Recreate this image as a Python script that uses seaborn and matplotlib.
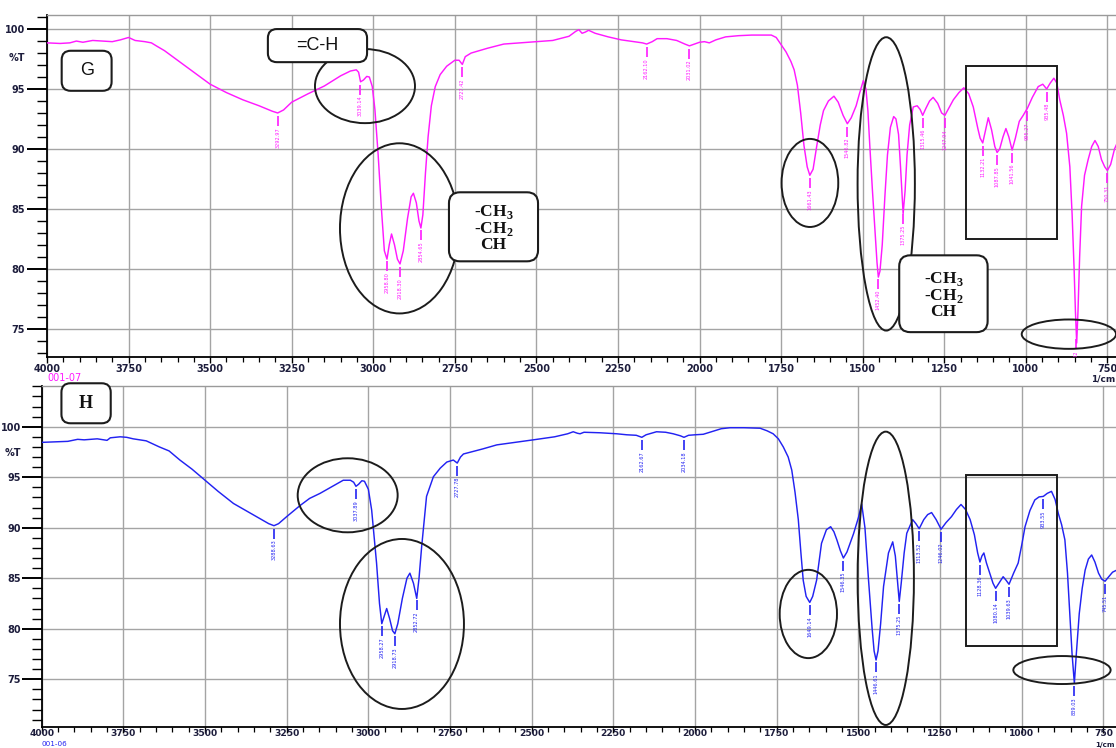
import numpy as np
import matplotlib
matplotlib.use("Agg")
import matplotlib.pyplot as plt
import seaborn as sns
from matplotlib.patches import Ellipse, Rectangle, FancyBboxPatch
from matplotlib.transforms import IdentityTransform

# ---------------- spectrum G (upper panel) ----------------
g_wn = [4000, 3960, 3930, 3910, 3890, 3860, 3830, 3800, 3775, 3750, 3730, 3700, 3680, 3665,
        3640, 3600, 3560, 3500, 3450, 3400, 3350, 3310, 3293, 3275, 3250, 3200, 3150, 3100,
        3070, 3052, 3045, 3039, 3030, 3020, 3012, 3003, 2995, 2985, 2975, 2966, 2958, 2951,
        2944, 2935, 2926, 2918, 2908, 2895, 2884, 2877, 2868, 2860, 2854, 2848, 2840, 2832,
        2822, 2810, 2795, 2775, 2750, 2737, 2727, 2718, 2700, 2650, 2600, 2550, 2500, 2450,
        2400, 2380, 2370, 2360, 2350, 2340, 2320, 2280, 2240, 2200, 2175, 2162, 2145, 2130,
        2100, 2070, 2045, 2031, 2015, 2000, 1985, 1970, 1950, 1920, 1880, 1840, 1800, 1780,
        1765, 1750, 1735, 1720, 1710, 1700, 1690, 1680, 1670, 1662, 1652, 1641, 1630, 1620,
        1605, 1588, 1575, 1560, 1547, 1535, 1520, 1510, 1498, 1490, 1484, 1478, 1470, 1462,
        1456, 1452, 1447, 1440, 1432, 1424, 1415, 1405, 1398, 1390, 1384, 1376, 1370, 1364,
        1356, 1345, 1333, 1324, 1316, 1306, 1295, 1284, 1270, 1258, 1248, 1236, 1222, 1205,
        1190, 1175, 1161, 1147, 1140, 1132, 1124, 1115, 1105, 1095, 1088, 1080, 1070, 1061,
        1052, 1042, 1032, 1020, 1008, 995, 980, 962, 948, 936, 925, 914, 905, 896, 885, 875,
        865, 858, 852, 848, 844, 840, 835, 829, 820, 809, 798, 788, 778, 768, 758, 750, 740,
        728, 715, 700, 680]
g_t = [98.85, 98.8, 98.85, 99.0, 98.9, 99.05, 99.0, 98.95, 99.1, 99.3, 99.05, 98.95, 98.85, 98.6,
       98.2, 97.4, 96.6, 95.4, 94.7, 94.1, 93.6, 93.15, 93.0, 93.25, 93.9, 94.6, 95.25, 96.1,
       96.5, 96.6, 96.4, 95.6, 95.75, 96.05, 96.0, 95.2, 93.3, 89.5, 85.0, 81.5, 80.8, 82.0,
       82.9, 82.0, 80.8, 80.4, 81.5, 84.2, 86.0, 86.3, 85.5, 84.0, 83.4, 84.5, 88.0, 91.0,
       93.6, 95.2, 96.2, 96.9, 97.4, 97.4, 97.05, 97.7, 98.0, 98.4, 98.75, 98.85, 98.95, 99.05,
       99.4, 99.8, 99.95, 99.65, 99.75, 99.9, 99.65, 99.35, 99.1, 98.95, 98.85, 98.75, 98.95, 99.2,
       99.2, 99.05, 98.75, 98.6, 98.75, 98.9, 98.95, 98.85, 99.1, 99.35, 99.45, 99.5, 99.5, 99.5,
       99.3, 98.7, 98.1, 97.3, 96.6, 95.3, 93.0, 90.3, 88.5, 87.8, 88.3, 90.2, 92.0, 93.2,
       94.0, 94.4, 93.9, 92.8, 92.1, 92.6, 93.6, 94.6, 95.7, 95.0, 93.2, 90.2, 86.5, 83.0,
       80.5, 79.3, 79.8, 82.0, 86.0, 89.5, 91.8, 92.7, 92.5, 91.2, 88.5, 84.6, 86.5, 89.5,
       92.0, 93.5, 93.6, 93.3, 92.8, 93.4, 94.0, 94.3, 93.8, 93.0, 92.8, 93.4, 94.1, 94.7,
       95.1, 94.6, 93.5, 91.7, 90.9, 90.5, 91.5, 92.6, 91.6, 90.2, 89.7, 90.0, 91.0, 91.7,
       91.0, 89.9, 90.9, 92.3, 92.8, 93.4, 94.3, 95.2, 95.4, 95.0, 95.5, 95.9, 95.5, 94.1, 92.8, 91.3,
       88.5, 84.5, 80.0, 76.5, 73.8, 76.5, 81.0, 85.2, 87.8, 89.1, 90.2, 90.7, 90.2, 89.1, 88.5, 88.2, 88.7,
       90.0, 90.8, 91.2, 91.0]
g_peaks = [3292.97, 3039.14, 2958.80, 2918.30, 2854.65, 2727.42, 2162.10, 2031.02, 1661.43,
           1546.82, 1452.40, 1375.25, 1315.46, 1247.94, 1132.21, 1087.85, 1041.56, 995.27,
           935.48, 844.82, 750.31]

# ---------------- spectrum H (lower panel) ----------------
h_wn = [4000, 3960, 3920, 3890, 3870, 3830, 3800, 3790, 3760, 3740, 3720, 3700, 3680, 3660,
        3640, 3610, 3577, 3540, 3500, 3460, 3413, 3370, 3332, 3305, 3289, 3275, 3250, 3209,
        3180, 3148, 3110, 3077, 3055, 3045, 3038, 3030, 3020, 3012, 3000, 2990, 2982, 2975,
        2966, 2959, 2951, 2944, 2935, 2926, 2919, 2910, 2896, 2882, 2873, 2862, 2852, 2845,
        2837, 2822, 2801, 2780, 2760, 2740, 2728, 2718, 2709, 2650, 2607, 2550, 2495, 2430,
        2390, 2373, 2360, 2352, 2340, 2291, 2240, 2209, 2180, 2163, 2150, 2118, 2090, 2067,
        2045, 2034, 2020, 2000, 1975, 1950, 1920, 1893, 1850, 1801, 1780, 1761, 1745, 1730,
        1715, 1704, 1694, 1684, 1676, 1669, 1660, 1649, 1640, 1628, 1613, 1598, 1585, 1575,
        1566, 1555, 1546, 1535, 1515, 1500, 1490, 1480, 1469, 1458, 1452, 1446, 1440, 1432,
        1423, 1408, 1395, 1387, 1380, 1375, 1369, 1360, 1352, 1334, 1324, 1314, 1300, 1288,
        1276, 1262, 1247, 1232, 1215, 1200, 1186, 1172, 1158, 1145, 1135, 1128, 1122, 1116,
        1108, 1098, 1088, 1080, 1070, 1057, 1048, 1039, 1025, 1011, 1000, 990, 975, 960, 947,
        934, 922, 909, 898, 888, 878, 868, 860, 853, 846, 839, 833, 824, 815, 806, 796, 786,
        776, 765, 755, 745, 735, 722, 710, 690]
h_t = [98.45, 98.5, 98.55, 98.75, 98.7, 98.8, 98.65, 98.9, 99.0, 98.95, 98.8, 98.7, 98.6, 98.3,
       98.0, 97.6, 96.7, 95.8, 94.7, 93.6, 92.4, 91.6, 90.9, 90.4, 90.2, 90.4, 91.1, 92.2,
       92.9, 93.4, 94.1, 94.7, 94.7, 94.5, 94.1, 94.3, 94.65, 94.6, 93.8, 91.75, 89.0, 86.5,
       82.5, 80.5, 81.3, 82.0, 81.0, 79.8, 79.5, 80.5, 83.0, 85.0, 85.5, 84.5, 83.0, 85.0,
       88.1, 93.1, 95.05, 95.9, 96.5, 96.7, 96.4, 97.0, 97.3, 97.8, 98.2, 98.45, 98.7, 99.0,
       99.3, 99.5, 99.35, 99.3, 99.45, 99.4, 99.3, 99.2, 99.15, 98.95, 99.2, 99.5, 99.45, 99.3,
       99.1, 98.95, 99.15, 99.2, 99.25, 99.5, 99.8, 99.9, 99.9, 99.85, 99.6, 99.3, 98.8, 98.0,
       97.0, 95.7, 93.5, 90.8, 87.5, 84.8, 83.2, 82.6, 83.2, 84.8, 88.45, 89.8, 90.1, 89.6,
       88.8, 87.7, 87.0, 87.6, 89.4, 91.0, 92.35, 90.0, 84.8, 80.0, 77.8, 76.9, 77.8, 80.5,
       84.2, 87.5, 88.6, 87.2, 84.5, 82.7, 84.5, 87.5, 89.45, 90.8, 90.4, 89.9, 90.8, 91.3,
       91.5, 90.8, 89.85, 90.5, 91.1, 91.8, 92.3, 91.8, 90.8, 89.3, 87.5, 86.6, 87.2, 87.5,
       86.5, 85.5, 84.5, 84.0, 84.5, 85.15, 84.8, 84.4, 85.5, 86.5, 88.3, 90.1, 91.7, 92.75, 93.05,
       93.1, 93.4, 93.6, 92.8, 91.4, 90.3, 88.8, 85.5, 81.5, 77.5, 74.6, 77.5, 81.5, 84.0, 85.8, 86.9, 87.3,
       86.6, 85.5, 84.9, 84.7, 85.1, 85.6, 85.8, 86.0]
h_peaks = [3288.63, 3037.89, 2958.27, 2918.73, 2852.72, 2727.78, 2162.67, 2034.18, 1649.14,
           1546.35, 1446.61, 1375.25, 1313.52, 1246.02, 1128.36, 1080.14, 1039.63, 933.55,
           839.03, 745.51]

x_tick_vals = [4000, 3750, 3500, 3250, 3000, 2750, 2500, 2250, 2000, 1750, 1500, 1250, 1000, 750]
x_tick_labels = ["4000", "3750", "3500", "3250", "3000", "2750", "2500", "2250", "2000",
                 "1750", "1500", "1250", "1000", "750"]
y_tick_vals = [75, 80, 85, 90, 95, 100]
y_tick_labels = ["75", "80", "85", "90", "95", "100"]

G_COLOR = "#FF1AFF"
H_COLOR = "#2222F2"
INK = "#1c1c1c"
TICK_INK = "#1d1d3c"

sns.set_theme(style="white")
plt.rcParams["font.family"] = ["DejaVu Sans"]
plt.rcParams["mathtext.fontset"] = "custom"
plt.rcParams["mathtext.bf"] = "Liberation Serif:bold"
plt.rcParams["mathtext.rm"] = "Liberation Serif:bold"

W, H = 1116, 748
PT = 0.72  # points per pixel at 100 dpi
fig = plt.figure(figsize=(W / 100, H / 100), dpi=100)
fig.patch.set_facecolor("white")

ax_g = fig.add_axes([47 / W, 1 - 356.7 / H, 1093 / W, (356.7 - 14.7) / H])
ax_h = fig.add_axes([41.7 / W, 1 - 726.7 / H, 1094.4 / W, (726.7 - 386) / H])


def style_axes(ax, ylim, ylabel_pad, xlabel_pad, xlabel_size):
    ax.set_facecolor("white")
    ax.set_xlim(4000, 650)
    ax.set_ylim(*ylim)
    ax.set_xticks(x_tick_vals, labels=x_tick_labels, fontweight="bold", fontsize=xlabel_size,
                  color=TICK_INK)
    ax.set_xticks(np.arange(3950, 650, -50), minor=True)
    ax.set_yticks(y_tick_vals, labels=y_tick_labels, fontweight="bold", fontsize=7, color=TICK_INK)
    ax.set_yticks(np.arange(int(np.ceil(ylim[0])), int(ylim[1]) + 1), minor=True)
    ax.grid(True, which="major", color="#a4a4a4", lw=1.0)
    ax.grid(False, which="minor")
    ax.set_axisbelow(True)
    ax.tick_params(axis="x", which="major", direction="out", length=6 * PT, width=1.0,
                   color="black", pad=xlabel_pad, bottom=True)
    ax.tick_params(axis="x", which="minor", direction="out", length=5 * PT, width=0.9,
                   color="black", bottom=True)
    ax.tick_params(axis="y", which="major", direction="out", length=20 * PT, width=1.4,
                   color="black", pad=ylabel_pad, left=True)
    ax.tick_params(axis="y", which="minor", direction="out", length=10 * PT, width=1.0,
                   color="black", left=True)
    for side in ("left", "bottom"):
        ax.spines[side].set_color("black")
        ax.spines[side].set_linewidth(1.3)
    ax.spines["top"].set_color("#9a9a9a")
    ax.spines["top"].set_linewidth(1.0)
    ax.spines["right"].set_visible(False)
    ax.set_xlabel("")
    ax.set_ylabel("")


def draw_spectrum(ax, wn, t, color):
    sns.lineplot(x=wn, y=t, ax=ax, color=color, lw=1.05, sort=False, estimator=None, zorder=3)


def draw_peak_marks(ax, peaks, wn, t, color):
    wn_a = np.asarray(wn, dtype=float)[::-1]
    t_a = np.asarray(t, dtype=float)[::-1]
    p0 = ax.transData.transform((0, 0))[1]
    p1 = ax.transData.transform((0, 1))[1]
    ppu = p1 - p0
    for p in peaks:
        tv = np.interp(p, wn_a, t_a)
        top = tv - 3 / ppu
        bot = top - 10 / ppu
        ax.plot([p, p], [top, bot], color=color, lw=1.2, zorder=3, solid_capstyle="butt")
        ax.text(p, bot - 1 / ppu, f"{p:.2f}", rotation=90, ha="center", va="top",
                fontsize=3.6, color=color, clip_on=True, zorder=3)


def ellipse(ax, wn_c, t_c, w, h):
    ax.add_patch(Ellipse((wn_c, t_c), w, h, fill=False, ec=INK, lw=1.4, zorder=4, clip_on=False))


def to_px(ax, wn, t):
    return ax.transData.transform((wn, t))


def rounded_box(ax, wn0, wn1, t0, t1, radius=9):
    x0, y0 = to_px(ax, wn0, t0)
    x1, y1 = to_px(ax, wn1, t1)
    xmin, xmax = sorted([x0, x1])
    ymin, ymax = sorted([y0, y1])
    fig.add_artist(FancyBboxPatch((xmin, ymin), xmax - xmin, ymax - ymin,
                                  boxstyle=f"round,pad=0,rounding_size={radius}",
                                  transform=IdentityTransform(), fc="white", ec=INK,
                                  lw=1.5, zorder=5))
    return (xmin + xmax) / 2, (ymin + ymax) / 2


def box_text(cx, cy, s, **kw):
    fig.text(cx, cy, s, transform=IdentityTransform(), ha="center", va="center",
             zorder=6, color="#111111", **kw)


def group_label(ax, wn0, wn1, t0, t1):
    cx, cy = rounded_box(ax, wn0, wn1, t0, t1, radius=11)
    cy -= 2
    for k, s in enumerate(["-CH$_\\mathbf{3}$", "-CH$_\\mathbf{2}$", "CH"]):
        box_text(cx, cy + 16.5 - 16.5 * k, s, fontsize=12.5, family="Liberation Serif",
                 fontweight="bold")


style_axes(ax_g, (72.66, 101.2), 1.5, 1.2, 7)
style_axes(ax_h, (70.3, 104.03), 0.5, -2.5, 6.6)

draw_spectrum(ax_g, g_wn, g_t, G_COLOR)
draw_spectrum(ax_h, h_wn, h_t, H_COLOR)
ax_g.set_xlim(4000, 650)
ax_g.set_ylim(72.66, 101.2)
ax_h.set_xlim(4000, 650)
ax_h.set_ylim(70.3, 104.03)
for a in (ax_g, ax_h):
    a.set_xlabel("")
    a.set_ylabel("")

draw_peak_marks(ax_g, g_peaks, g_wn, g_t, G_COLOR)
draw_peak_marks(ax_h, h_peaks, h_wn, h_t, H_COLOR)

# --- annotations, upper panel ---
ellipse(ax_g, 3025.4, 95.24, 306.5, 6.18)
ellipse(ax_g, 2919.7, 83.37, 364.7, 14.2)
ellipse(ax_g, 1661.7, 87.16, 173.8, 7.35)
ellipse(ax_g, 1427.8, 87.08, 175.6, 24.48)
ellipse(ax_g, 868.0, 74.54, 289.0, 2.45)
ax_g.add_patch(Rectangle((904.0, 82.48), 280.5, 14.43, fill=False, ec=INK, lw=1.4, zorder=4))

cx, cy = rounded_box(ax_g, 3955, 3802, 98.19, 94.85)
box_text(cx, cy, "G", fontsize=13, family="Liberation Sans")
cx, cy = rounded_box(ax_g, 3323, 3019, 100.0, 97.24)
box_text(cx, cy, "=C-H", fontsize=13, family="Liberation Sans")
group_label(ax_g, 2768, 2495, 86.38, 80.62)
group_label(ax_g, 1388, 1117, 81.12, 74.71)

# --- annotations, lower panel ---
ellipse(ax_h, 3063.4, 93.21, 306.0, 7.33)
ellipse(ax_h, 2897.2, 80.47, 379.5, 16.83)
ellipse(ax_h, 1653.3, 81.46, 175.4, 8.74)
ellipse(ax_h, 1416.3, 84.99, 172.3, 29.04)
ellipse(ax_h, 876.9, 75.91, 297.8, 2.77)
ax_h.add_patch(Rectangle((891.4, 78.29), 280.3, 16.93, fill=False, ec=INK, lw=1.4, zorder=4))

cx, cy = rounded_box(ax_h, 3939.6, 3788.7, 104.3, 100.34)
box_text(cx, cy, "H", fontsize=13, family="Liberation Serif", fontweight="bold")

# --- axis captions ---
fig.text(25 / W, 1 - 58 / H, "%T", ha="right", va="center", fontsize=7, fontweight="bold",
         color=TICK_INK)
fig.text(21 / W, 1 - 452.7 / H, "%T", ha="right", va="center", fontsize=7, fontweight="bold",
         color=TICK_INK)
fig.text(1115 / W, 1 - 378.5 / H, "1/cm", ha="right", va="center", fontsize=6.5,
         fontweight="bold", color=TICK_INK)
fig.text(1115 / W, 0.5 / H, "1/cm", ha="right", va="bottom", fontsize=5.2,
         fontweight="bold", color=TICK_INK)
fig.text(47 / W, 1 - 378 / H, "001-07", ha="left", va="center", fontsize=7, color=G_COLOR)
fig.text(42 / W, 0.5 / H, "001-06", ha="left", va="bottom", fontsize=5.2, color=H_COLOR)

fig.savefig("out.png", dpi=100)
